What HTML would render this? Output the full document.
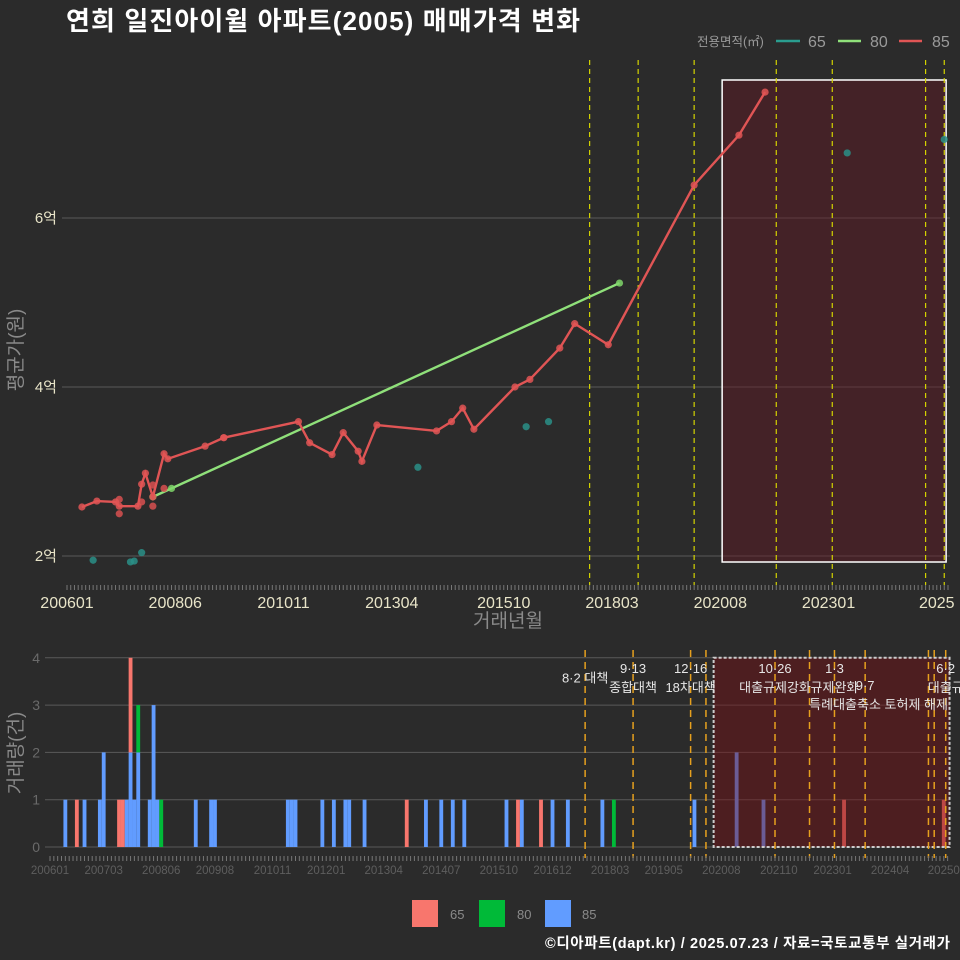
<!DOCTYPE html>
<html><head><meta charset="utf-8">
<style>
html,body{margin:0;padding:0;background:#2b2b2b;}
svg{display:block;font-family:"Liberation Sans","Noto Sans CJK KR",sans-serif;}
</style></head>
<body>
<svg id="c" width="960" height="960" viewBox="0 0 960 960" xmlns="http://www.w3.org/2000/svg">
<rect x="0" y="0" width="960" height="960" fill="#2b2b2b"/>
<text x="66" y="30" fill="#ffffff" font-size="26" font-weight="bold" textLength="514">연희 일진아이윌 아파트(2005) 매매가격 변화</text>
<g>
<text x="697" y="46" fill="#9a9a9a" font-size="12.5">전용면적(㎡)</text>
<line x1="776" y1="41" x2="800" y2="41" stroke="#2a9d8f" stroke-width="2.5"/>
<text x="808" y="47" fill="#9a9a9a" font-size="16">65</text>
<line x1="838" y1="41" x2="861" y2="41" stroke="#8fe07a" stroke-width="2.5"/>
<text x="870" y="47" fill="#9a9a9a" font-size="16">80</text>
<line x1="899" y1="41" x2="922" y2="41" stroke="#e05555" stroke-width="2.5"/>
<text x="932" y="47" fill="#9a9a9a" font-size="16">85</text>
</g>
<g id="topPanel"></g>
<g id="botPanel"></g>
<text transform="translate(22,350) rotate(-90)" text-anchor="middle" fill="#8a8a8a" font-size="19">평균가(원)</text>
<text x="508" y="627" text-anchor="middle" fill="#8a8a8a" font-size="19">거래년월</text>
<text transform="translate(22,753) rotate(-90)" text-anchor="middle" fill="#8a8a8a" font-size="19">거래량(건)</text>
<g>
<rect x="412" y="900" width="26" height="27" fill="#f8766d"/>
<text x="450" y="919" fill="#8a8a8a" font-size="13">65</text>
<rect x="479" y="900" width="26" height="27" fill="#00ba38"/>
<text x="517" y="919" fill="#8a8a8a" font-size="13">80</text>
<rect x="545" y="900" width="26" height="27" fill="#619cff"/>
<text x="582" y="919" fill="#8a8a8a" font-size="13">85</text>
</g>
<text x="950" y="948" text-anchor="end" fill="#ffffff" font-size="14.5" font-weight="bold" textLength="405">©디아파트(dapt.kr) / 2025.07.23 / 자료=국토교통부 실거래가</text>
</svg>
<script>
// ---- data (month index from 2006-01; price in 억) ----
const line85Months = [4,8,13,14,19,20,21,23,26,27,37,42,42,62,65,71,74,78,79,83,99,103,106,109,120,124,132,136,145,168,180,187];
const line85Values = [2.58,2.65,2.64,2.59,2.59,2.85,2.98,2.70,3.21,3.15,3.30,3.40,3.40,3.59,3.34,3.20,3.46,3.24,3.12,3.55,3.48,3.59,3.75,3.50,4.00,4.09,4.46,4.75,4.50,6.39,6.98,7.49];
const extra85Months = [14,14,23,23,26,20];
const extra85Values = [2.50,2.67,2.59,2.84,2.80,2.64];
const line80Months = [23,28,148];
const line80Values = [2.70,2.80,5.23];
const pts65Months = [7,17,18,20,94,123,129,209,235];
const pts65Values = [1.95,1.93,1.94,2.04,3.05,3.53,3.59,6.77,6.93];
const priceTicks = [2,4,6];
const priceTickLabels = ["2억","4억","6억"];
const topXTickMonths = [0,29,58,87,117,146,175,204,233];
const topXTickLabels = ["200601","200806","201011","201304","201510","201803","202008","202301","2025"];
const topPolicyMonths = [140,153,168,190,205,230,235];
// volume bars: month, count65, count80, count85
const barMonths = [4,7,9,13,14,18,19,20,21,22,23,26,27,28,29,38,42,43,62,63,64,71,74,77,78,82,93,98,102,105,108,119,122,123,128,131,135,144,147,168,179,186,207,233];
const bar65 = [0,1,0,0,0,1,1,0,2,0,0,0,0,0,0,0,0,0,0,0,0,0,0,0,0,0,1,0,0,0,0,0,1,0,1,0,0,0,0,0,0,0,1,1];
const bar80 = [0,0,0,0,0,0,0,0,0,0,1,0,0,0,1,0,0,0,0,0,0,0,0,0,0,0,0,0,0,0,0,0,0,0,0,0,0,0,1,0,0,0,0,0];
const bar85 = [1,0,1,1,2,0,0,1,2,1,2,1,3,1,0,1,1,1,1,1,1,1,1,1,1,1,0,1,1,1,1,1,0,1,0,1,1,1,0,1,2,1,0,0];
const volTicks = [0,1,2,3,4];
const botXTickMonths = [0,14,29,43,58,72,87,102,117,131,146,160,175,190,204,219,233];
const botXTickLabels = ["200601","200703","200806","200908","201011","201201","201304","201407","201510","201612","201803","201905","202008","202110","202301","202404","20250"];
const botPolicyMonths = [139.5,152,167,171,189,198,204.5,212.5,229,230.5,233.5];
const annotMonths = [139.5,152,152,167,167,189,189,204.5,204.5,212.5,216,233.5,233.5];
const annotLabels = ["8·2 대책","9·13","종합대책","12·16","18차대책","10·26","대출규제강화","1·3","규제완화","9·7","특례대출축소 토허제 해제","6·2","대출규"];
const annotRows = [0.5,0,1,0,1,0,1,0,1,0.9,1.9,0,1];

const NS="http://www.w3.org/2000/svg";
function mk(parent,tag,attrs){const e=document.createElementNS(NS,tag);for(const k in attrs)e.setAttribute(k,attrs[k]);parent.appendChild(e);return e;}
const topG=document.getElementById('topPanel'), botG=document.getElementById('botPanel');

// ---- top scales ----
const tx=m=>67+m*3.733;
const ty=v=>556-(v-2)*84.5;
priceTicks.forEach((t,i)=>{
  const g=mk(topG,'line',{x1:62,x2:950,y1:ty(t),y2:ty(t),stroke:'#5a5a5a','stroke-width':1});
  
  
  const l=mk(topG,'text',{x:57,y:ty(t)+5,'text-anchor':'end',fill:'#e8e4c8','font-size':15});
  l.textContent=priceTickLabels[i];
  
  
});
const bx=mk(topG,'rect',{x:tx(175.5),y:80,width:tx(235.5)-tx(175.5),height:482,fill:'rgba(100,25,35,0.45)',stroke:'#ffffff','stroke-width':1.5});


topPolicyMonths.forEach(m=>{
  const l=mk(topG,'line',{x1:tx(m),x2:tx(m),y1:60,y2:585,stroke:'#d4d400','stroke-width':1.2,'stroke-dasharray':'5,4'});
  
  
});
for(let m=0;m<=236;m++){const t=mk(topG,'line',{x1:tx(m),x2:tx(m),y1:585,y2:590,stroke:'#777','stroke-width':1});
  
  }
topXTickMonths.forEach((m,i)=>{
  const t=mk(topG,'text',{x:tx(m),y:608,'text-anchor':'middle',fill:'#e8e4c8','font-size':16});
  t.textContent=topXTickLabels[i];
  
  
});
function series(months,vals,color,name){
  const p=mk(topG,'polyline',{points:months.map((m,i)=>tx(m)+','+ty(vals[i])).join(' '),fill:'none',stroke:color,'stroke-width':2.4});
  
  
}
function dots(months,vals,color,name){
  months.forEach((m,i)=>{const c=mk(topG,'circle',{cx:tx(m),cy:ty(vals[i]),r:3.6,fill:color,opacity:0.85});
    
    });
}
dots(pts65Months,pts65Values,'#2a8f87','area-65');
series(line80Months,line80Values,'#8fe07a','area-80');
dots(line80Months,line80Values,'#7fd66a','area-80');
dots(extra85Months,extra85Values,'#d85050','area-85');
series(line85Months,line85Values,'#e05555','area-85');
dots(line85Months,line85Values,'#e05555','area-85');

// ---- bottom scales ----
const bx2=m=>50+m*3.836;
const by=v=>847-v*47.3;
volTicks.forEach(t=>{
  const g=mk(botG,'line',{x1:45,x2:950,y1:by(t),y2:by(t),stroke:'#5a5a5a','stroke-width':1});
  
  
  const l=mk(botG,'text',{x:40,y:by(t)+5,'text-anchor':'end',fill:'#6a6a6a','font-size':14});
  l.textContent=t;
  
  
});
const bw=3.836;
barMonths.forEach((m,i)=>{
  let base=0;
  [[bar85[i],'#619cff','bar-85'],[bar80[i],'#00ba38','bar-80'],[bar65[i],'#f8766d','bar-65']].forEach(([v,col,nm])=>{
    if(v>0){const r=mk(botG,'rect',{x:bx2(m)-bw/2,y:by(base+v),width:bw,height:by(base)-by(base+v),fill:col});
      
      
      base+=v;}
  });
});
const ov=mk(botG,'rect',{x:bx2(173),y:by(4),width:bx2(234.5)-bx2(173),height:by(0)-by(4),fill:'rgba(120,15,20,0.45)',stroke:'#cccccc','stroke-width':2,'stroke-dasharray':'3,2'});


botPolicyMonths.forEach(m=>{
  const l=mk(botG,'line',{x1:bx2(m),x2:bx2(m),y1:650,y2:858,stroke:'#e6a01e','stroke-width':1.5,'stroke-dasharray':'7,5'});
  
  
});
annotMonths.forEach((m,i)=>{
  const t=mk(botG,'text',{x:bx2(m),y:673+annotRows[i]*19,'text-anchor':'middle',fill:'#e6e6e6','font-size':13});
  t.textContent=annotLabels[i];
  
  
});
for(let m=0;m<=234;m++){const t=mk(botG,'line',{x1:bx2(m),x2:bx2(m),y1:856,y2:861,stroke:'#777','stroke-width':1});
  
  }
botXTickMonths.forEach((m,i)=>{
  const t=mk(botG,'text',{x:bx2(m),y:874,'text-anchor':'middle',fill:'#5e5e5e','font-size':11.5});
  t.textContent=botXTickLabels[i];
  
  
});
</script>
</body></html>
